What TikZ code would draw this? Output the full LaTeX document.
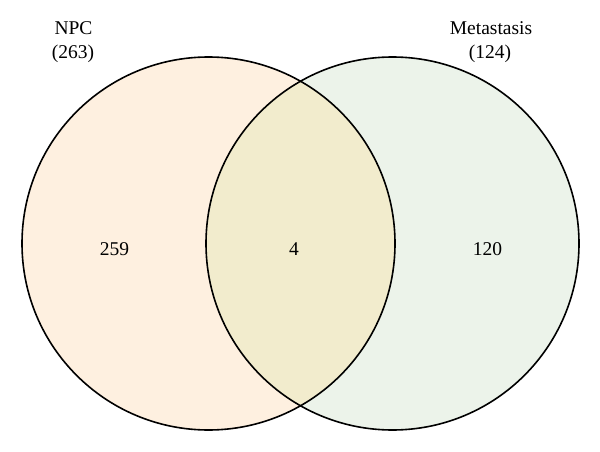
\documentclass[tikz,border=0pt]{standalone}
\usepackage{fontspec}
\setmainfont{Liberation Serif}
\definecolor{npcfill}{HTML}{FEF0E0}
\definecolor{metfill}{HTML}{ECF3EA}
\definecolor{bothfill}{HTML}{F2ECCD}
\begin{document}
\begin{tikzpicture}[x=1pt,y=-1pt,
  lbl/.style={anchor=base,inner sep=0pt,font=\fontsize{19.5}{23}\selectfont},
  ring/.style={line width=1.6pt}]
\useasboundingbox (0,0) rectangle (600,452);
\fill[npcfill] (208.5,243.5) circle[radius=186.5];
\fill[metfill] (392.5,243.5) circle[radius=186.5];
\begin{scope}
\clip (208.5,243.5) circle[radius=186.5];
\fill[bothfill] (392.5,243.5) circle[radius=186.5];
\end{scope}
\draw[ring] (208.5,243.5) circle[radius=186.5];
\draw[ring] (392.5,243.5) circle[radius=186.5];
\node[lbl] (npc) at (73.5,35) {NPC};
\node[lbl] (npcn) at (73,59) {(263)};
\node[lbl] (met) at (491,35) {Metastasis};
\node[lbl] (metn) at (490,59) {(124)};
\node[lbl] (onlynpc) at (114.5,255) {259};
\node[lbl] (both) at (294,255) {4};
\node[lbl] (onlymet) at (487.5,255) {120};
\end{tikzpicture}
\end{document}
